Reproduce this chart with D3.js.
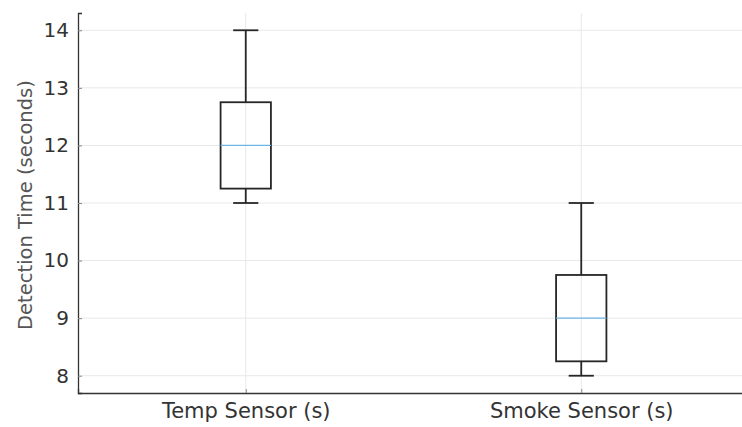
<!DOCTYPE html>
<html>
<head>
<meta charset="utf-8">
<script src="https://cdn.jsdelivr.net/npm/d3@7"></script>
<style>
  body { margin: 0; background: #fff; }
  text { font-family: "DejaVu Sans", sans-serif; }
</style>
</head>
<body>
<script>
// box plot data
var categories = ["Temp Sensor (s)", "Smoke Sensor (s)"];
var whiskerLow = [11, 8];
var q1 = [11.25, 8.25];
var median = [12, 9];
var q3 = [12.75, 9.75];
var whiskerHigh = [14, 11];
var yTicks = [8, 9, 10, 11, 12, 13, 14];

var width = 742, height = 427;
var padLeft = 78, padRight = 749, padTop = 13, padBottom = 393;

var svg = d3.select("body").append("svg")
    .attr("width", width)
    .attr("height", height);

var x = d3.scaleLinear().domain([0.5, 2.5]).range([padLeft, padRight]);
var y = d3.scaleLinear().domain([7.7, 14.3]).range([padBottom, padTop]);

// grid
svg.selectAll(".hgrid")
    .data(yTicks)
    .enter()
    .append("line")
    .attr("x1", padLeft).attr("x2", padRight)
    .attr("y1", function(d){ return y(d) })
    .attr("y2", function(d){ return y(d) })
    .attr("stroke", "#e8e8e8")
    .attr("stroke-width", 1);

svg.selectAll(".vgrid")
    .data(categories)
    .enter()
    .append("line")
    .attr("x1", function(d, i){ return x(i + 1) })
    .attr("x2", function(d, i){ return x(i + 1) })
    .attr("y1", padTop).attr("y2", padBottom)
    .attr("stroke", "#e8e8e8")
    .attr("stroke-width", 1);

// boxes
var boxW = x(0.15) - x(0);
var capW = boxW / 2;
var stroke = "#262626";

var g = svg.selectAll(".box")
    .data(categories)
    .enter()
    .append("g");

// whiskers
g.append("line")
    .attr("x1", function(d, i){ return x(i + 1) })
    .attr("x2", function(d, i){ return x(i + 1) })
    .attr("y1", function(d, i){ return y(whiskerHigh[i]) })
    .attr("y2", function(d, i){ return y(q3[i]) })
    .attr("stroke", stroke).attr("stroke-width", 1.8);
g.append("line")
    .attr("x1", function(d, i){ return x(i + 1) })
    .attr("x2", function(d, i){ return x(i + 1) })
    .attr("y1", function(d, i){ return y(q1[i]) })
    .attr("y2", function(d, i){ return y(whiskerLow[i]) })
    .attr("stroke", stroke).attr("stroke-width", 1.8);

// caps
[whiskerHigh, whiskerLow].forEach(function(arr){
    g.append("line")
        .attr("x1", function(d, i){ return x(i + 1) - capW / 2 })
        .attr("x2", function(d, i){ return x(i + 1) + capW / 2 })
        .attr("y1", function(d, i){ return y(arr[i]) })
        .attr("y2", function(d, i){ return y(arr[i]) })
        .attr("stroke", stroke).attr("stroke-width", 1.8);
});

g.append("rect")
    .attr("x", function(d, i){ return x(i + 1) - boxW / 2 })
    .attr("y", function(d, i){ return y(q3[i]) })
    .attr("width", boxW)
    .attr("height", function(d, i){ return y(q1[i]) - y(q3[i]) })
    .attr("fill", "none")
    .attr("stroke", stroke).attr("stroke-width", 1.8);

g.append("line")
    .attr("x1", function(d, i){ return x(i + 1) - boxW / 2 })
    .attr("x2", function(d, i){ return x(i + 1) + boxW / 2 })
    .attr("y1", function(d, i){ return y(median[i]) })
    .attr("y2", function(d, i){ return y(median[i]) })
    .attr("stroke", "#6cb6e6").attr("stroke-width", 1.2);

// axes
var yAxis = svg.append("g")
    .attr("transform", "translate(" + padLeft + ",0)")
    .call(d3.axisLeft(y).tickValues(yTicks).tickFormat(d3.format("d"))
        .tickSize(-4).tickPadding(9));
var xAxis = svg.append("g")
    .attr("transform", "translate(0," + padBottom + ")")
    .call(d3.axisBottom(x).tickValues([1, 2])
        .tickFormat(function(d){ return categories[d - 1] })
        .tickSize(-4).tickPadding(10));

[yAxis, xAxis].forEach(function(a){
    a.select(".domain").attr("stroke", "#333").attr("stroke-width", 1.3);
    a.selectAll(".tick line").attr("stroke", "#888");
    a.selectAll("text")
        .attr("fill", "#333")
        .style("font-size", "20px")
        .style("font-family", "DejaVu Sans");
});
xAxis.selectAll("text").style("font-size", "21px");

svg.append("text")
    .attr("transform", "translate(25," + ((padTop + padBottom) / 2 + 2) + ") rotate(-90)")
    .attr("text-anchor", "middle")
    .attr("dy", "0.35em")
    .attr("fill", "#555")
    .style("font-size", "19.5px")
    .text("Detection Time (seconds)");
</script>
</body>
</html>
